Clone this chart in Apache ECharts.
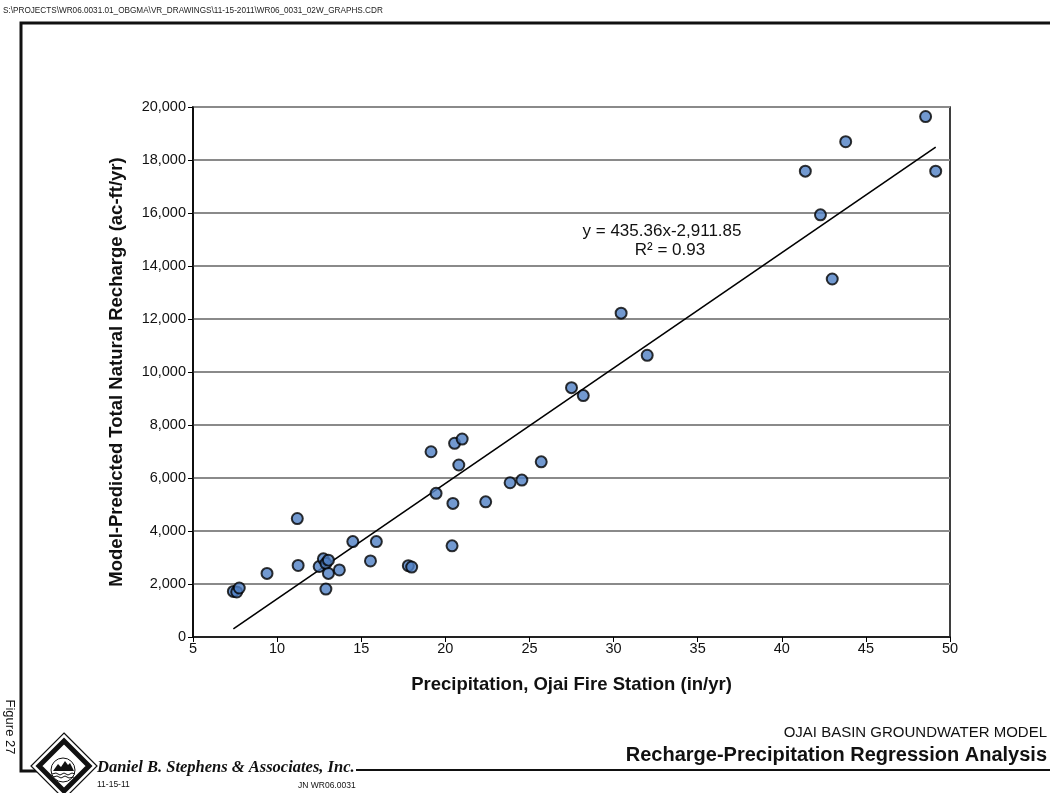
<!DOCTYPE html>
<html>
<head>
<meta charset="utf-8">
<script src="https://cdn.jsdelivr.net/npm/echarts@6/dist/echarts.min.js"></script>
<style>
html,body{margin:0;padding:0;background:#fff;}
#chart{width:1050px;height:793px;}
</style>
</head>
<body>
<div id="chart"></div>
<script>
// Data
const precipitation = [7.4, 7.6, 7.75, 9.4, 11.2, 11.25, 12.5, 12.75, 12.9, 13.05, 13.05, 12.9, 13.7, 14.5, 15.55, 15.9, 17.8, 18.0, 19.15, 19.45, 20.4, 20.45, 20.55, 20.8, 21.0, 22.4, 23.85, 24.55, 25.7, 27.5, 28.2, 30.45, 32.0, 41.4, 42.3, 43.0, 43.8, 48.55, 49.15];
const recharge = [1720, 1700, 1850, 2400, 4470, 2700, 2660, 2950, 2780, 2900, 2400, 1810, 2530, 3600, 2870, 3600, 2690, 2640, 6990, 5420, 3440, 5040, 7310, 6490, 7470, 5100, 5820, 5920, 6610, 9410, 9110, 12220, 10630, 17580, 15930, 13510, 18690, 19640, 17580];
const trendSlope = 435.36;
const trendIntercept = -2911.85;
const equationText = 'y = 435.36x\u20112,911.85';
const r2Text = 'R\u00b2 = 0.93';
const xTicks = {min: 5, max: 50, interval: 5};
const yTicks = {min: 0, max: 20000, interval: 2000};

const points = precipitation.map((x, i) => [x, recharge[i]]);
const xMin = Math.min(...precipitation), xMax = Math.max(...precipitation);
const trend = [[xMin, trendSlope * xMin + trendIntercept], [xMax, trendSlope * xMax + trendIntercept]];

const chart = echarts.init(document.getElementById('chart'), null, {renderer: 'canvas'});
const F = 'Liberation Sans, Arial, sans-serif';

chart.setOption({
  backgroundColor: '#fff',
  animation: false,
  grid: {left: 193, right: 100, top: 107, bottom: 156, show: true, borderColor: '#000', borderWidth: 1.5, backgroundColor: 'transparent'},
  xAxis: {
    type: 'value', min: xTicks.min, max: xTicks.max, interval: xTicks.interval,
    name: 'Precipitation, Ojai Fire Station (in/yr)', nameLocation: 'middle', nameGap: 38,
    nameTextStyle: {fontFamily: F, fontSize: 18.5, fontWeight: 'bold', color: '#111'},
    axisLine: {show: true, onZero: false, lineStyle: {color: '#000', width: 1.5}},
    axisTick: {show: true, length: 5, lineStyle: {color: '#000', width: 1}},
    axisLabel: {fontFamily: F, fontSize: 14.5, color: '#111', margin: 4},
    splitLine: {show: false}
  },
  yAxis: {
    type: 'value', min: yTicks.min, max: yTicks.max, interval: yTicks.interval,
    name: 'Model-Predicted Total Natural Recharge (ac-ft/yr)', nameLocation: 'middle', nameGap: 67,
    nameTextStyle: {fontFamily: F, fontSize: 18.5, fontWeight: 'bold', color: '#111'},
    axisLine: {show: true, lineStyle: {color: '#000', width: 1.5}},
    axisTick: {show: true, length: 5, lineStyle: {color: '#000', width: 1}},
    axisLabel: {fontFamily: F, fontSize: 14.5, color: '#111', margin: 7,
      formatter: v => v.toLocaleString('en-US')},
    splitLine: {show: true, lineStyle: {color: '#8a8a8a', width: 2}}
  },
  series: [
    {
      type: 'line', data: trend, symbol: 'none', z: 3,
      lineStyle: {color: '#000', width: 1.6}
    },
    {
      type: 'scatter', data: points, symbol: 'circle', symbolSize: 11, z: 4,
      itemStyle: {color: '#4f7fc4', borderColor: '#000', borderWidth: 2}
    }
  ],
  graphic: [
    {type: 'text', left: 3, top: 7, style: {text: 'S:\\PROJECTS\\WR06.0031.01_OBGMA\\VR_DRAWINGS\\11-15-2011\\WR06_0031_02W_GRAPHS.CDR', font: '8.2px ' + F, fill: '#222'}},
    // frame
    {type: 'polyline', shape: {points: [[1050, 23], [21, 23], [21, 771], [40, 771]]}, style: {stroke: '#111', lineWidth: 3, fill: null}},
    {type: 'line', shape: {x1: 356, y1: 770, x2: 1050, y2: 770}, style: {stroke: '#111', lineWidth: 2}},
    // equation
    {type: 'text', x: 662, y: 231, style: {text: equationText, font: '17px ' + F, fill: '#111', align: 'center', verticalAlign: 'middle'}},
    {type: 'text', x: 670, y: 250, style: {text: r2Text, font: '17px ' + F, fill: '#111', align: 'center', verticalAlign: 'middle'}},
    // titles bottom right
    {type: 'text', x: 1047, y: 733, style: {text: 'OJAI BASIN GROUNDWATER MODEL', font: '15px ' + F, fill: '#111', align: 'right', verticalAlign: 'middle'}},
    {type: 'text', x: 1047, y: 755, style: {text: 'Recharge-Precipitation Regression Analysis', font: 'bold 20px ' + F, fill: '#111', align: 'right', verticalAlign: 'middle'}},
    // Figure 27 rotated
    {type: 'text', x: 10, y: 727, rotation: -Math.PI / 2, style: {text: 'Figure 27', font: '13px ' + F, fill: '#111', align: 'center', verticalAlign: 'middle'}},
    // company
    {type: 'text', x: 97, y: 768, style: {text: 'Daniel B. Stephens & Associates, Inc.', font: 'italic bold 16.5px Liberation Serif, Times New Roman, serif', fill: '#111', align: 'left', verticalAlign: 'middle'}},
    {type: 'text', x: 97, y: 785, style: {text: '11-15-11', font: '8.5px ' + F, fill: '#111', align: 'left', verticalAlign: 'middle'}},
    {type: 'text', x: 298, y: 786, style: {text: 'JN WR06.0031', font: '8.5px ' + F, fill: '#111', align: 'left', verticalAlign: 'middle'}},
    // logo
    {type: 'polygon', shape: {points: [[64, 733], [97, 766], [64, 799], [31, 766]]}, style: {stroke: '#111', lineWidth: 1.2, fill: '#fff'}},
    {type: 'polygon', shape: {points: [[64, 741], [89, 766], [64, 791], [39, 766]]}, style: {stroke: '#111', lineWidth: 5, fill: '#fff'}},
    {type: 'circle', shape: {cx: 63, cy: 770, r: 12}, style: {stroke: '#111', lineWidth: 1, fill: '#fff'}},
    {type: 'polygon', shape: {points: [[53, 771], [58, 764], [61, 767], [65, 761], [68, 765], [70, 763], [74, 771]]}, style: {fill: '#111'}},
    {type: 'polyline', shape: {points: [[52, 774], [56, 773], [60, 775], [64, 773], [68, 775], [72, 773], [75, 774]]}, style: {stroke: '#111', lineWidth: 1, fill: null}},
    {type: 'polyline', shape: {points: [[53, 777], [57, 776], [61, 778], [65, 776], [69, 778], [74, 777]]}, style: {stroke: '#111', lineWidth: 1, fill: null}}
  ]
});
</script>
</body>
</html>
